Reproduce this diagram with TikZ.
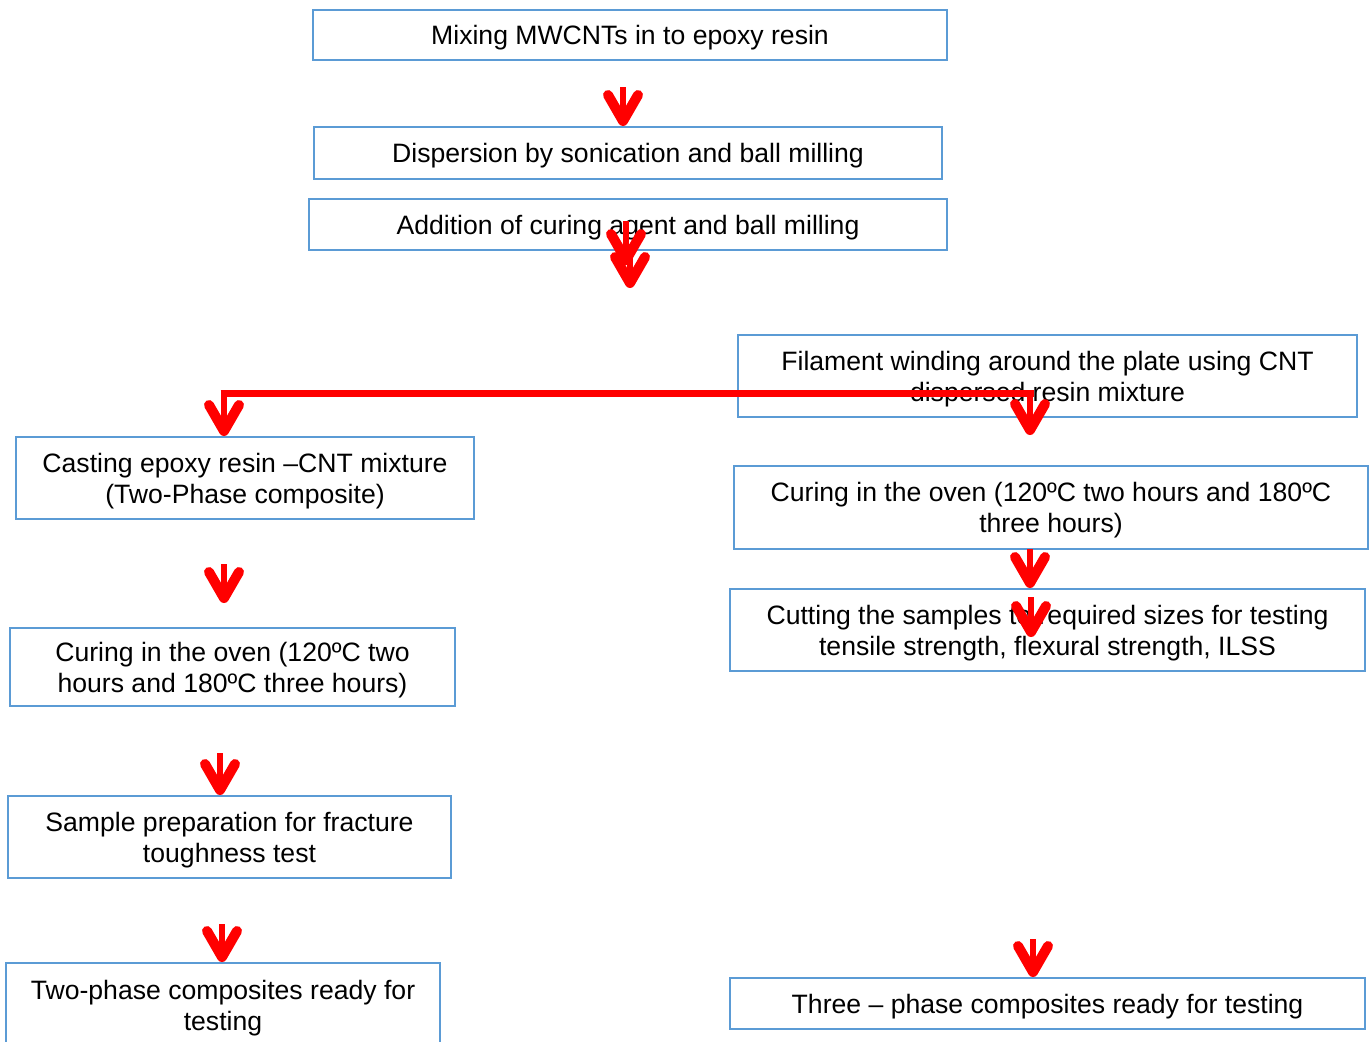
\documentclass[tikz,border=0pt]{standalone}
\usepackage{fontspec}
\setmainfont{Liberation Sans}
\usetikzlibrary{positioning,arrows.meta}

\definecolor{boxblue}{RGB}{91,155,213}

\begin{document}
\begin{tikzpicture}[
      x=0.5pt,y=-0.5pt,
      stepbox/.style={
        draw=boxblue,
        line width=1pt,
        align=center,
        inner sep=0pt,
        text depth=0pt,
        font=\fontsize{13.3}{15.5}\selectfont
      },
      flow/.style={
        draw=red,
        line width=3pt,
        -{Straight Barb[length=13pt,width=15pt,line width'=5pt,round]}
      },
      feed/.style={
        draw=red,
        line width=3.5pt
      }
      ]
      \useasboundingbox (0,0) rectangle (1369,1041);

      % centre column
      \node[stepbox,minimum width=317pt,minimum height=25pt] at (630,35)
        (mix) {Mixing MWCNTs in to epoxy resin};
      \node[stepbox,minimum width=314pt,minimum height=26pt] at (628,153)
        (disp) {Dispersion by sonication and ball milling};
      \node[stepbox,minimum width=319pt,minimum height=25.5pt] at (628,224.5)
        (add) {Addition of curing agent and ball milling};

      % two-phase branch
      \node[stepbox,minimum width=229pt,minimum height=41pt] at (245,478)
        (cast) {Casting epoxy resin –CNT mixture\\(Two-Phase composite)};
      \node[stepbox,minimum width=222.5pt,minimum height=39pt] at (232.5,667)
        (cureL) {Curing in the oven (120ºC two\\hours and 180ºC three hours)};
      \node[stepbox,minimum width=221.5pt,minimum height=41pt] at (229.5,837)
        (prep) {Sample preparation for fracture\\toughness test};
      \node[stepbox,minimum width=217pt,minimum height=42pt] at (223,1005)
        (readyL) {Two-phase composites ready for\\testing};

      % three-phase branch
      \node[stepbox,minimum width=309.5pt,minimum height=41pt] at (1047.5,376)
        (fil) {Filament winding around the plate using CNT\\dispersed resin mixture};
      \node[stepbox,minimum width=317pt,minimum height=41.5pt] at (1051,507.5)
        (cureR) {Curing in the oven (120ºC two hours and 180ºC\\three hours)};
      \node[stepbox,minimum width=317.5pt,minimum height=41pt] at (1047.5,630)
        (cut) {Cutting the samples to required sizes for testing\\tensile strength, flexural strength, ILSS};
      \node[stepbox,minimum width=317.5pt,minimum height=25.5pt] at (1047.5,1003.5)
        (readyR) {Three – phase composites ready for testing};

      % arrow starts
      \coordinate (a0) at (623,87);
      \coordinate (b0) at (626,221);
      \coordinate (b1) at (626,265);
      \coordinate (c0) at (630,244);
      \coordinate (c1) at (630,288);
      \coordinate (splitL) at (224,393);
      \coordinate (splitR) at (1030,393);
      \coordinate (splitE) at (1030,435);
      \coordinate (l1) at (224,564);
      \coordinate (l1e) at (224,603);
      \coordinate (l2) at (220,753);
      \coordinate (l3) at (222,924);
      \coordinate (r1) at (1030,549);
      \coordinate (r2) at (1031,597);
      \coordinate (r2e) at (1031,637);
      \coordinate (r3) at (1033,939);

      \draw[flow] (a0) -- (a0 |- disp.north);
      \draw[flow] (b0) -- (b1);
      \draw[flow] (c0) -- (c1);

      \draw[feed] ([xshift=-1.75pt]splitL) -- ([xshift=1.75pt]splitR);
      \draw[flow] (splitL) -- (splitL |- cast.north);
      \draw[flow] (splitR) -- (splitE);

      \draw[flow] (l1) -- (l1e);
      \draw[flow] (l2) -- (l2 |- prep.north);
      \draw[flow] (l3) -- (l3 |- readyL.north);

      \draw[flow] (r1) -- (r1 |- cut.north);
      \draw[flow] (r2) -- (r2e);
      \draw[flow] (r3) -- (r3 |- readyR.north);
    \end{tikzpicture}
\end{document}
